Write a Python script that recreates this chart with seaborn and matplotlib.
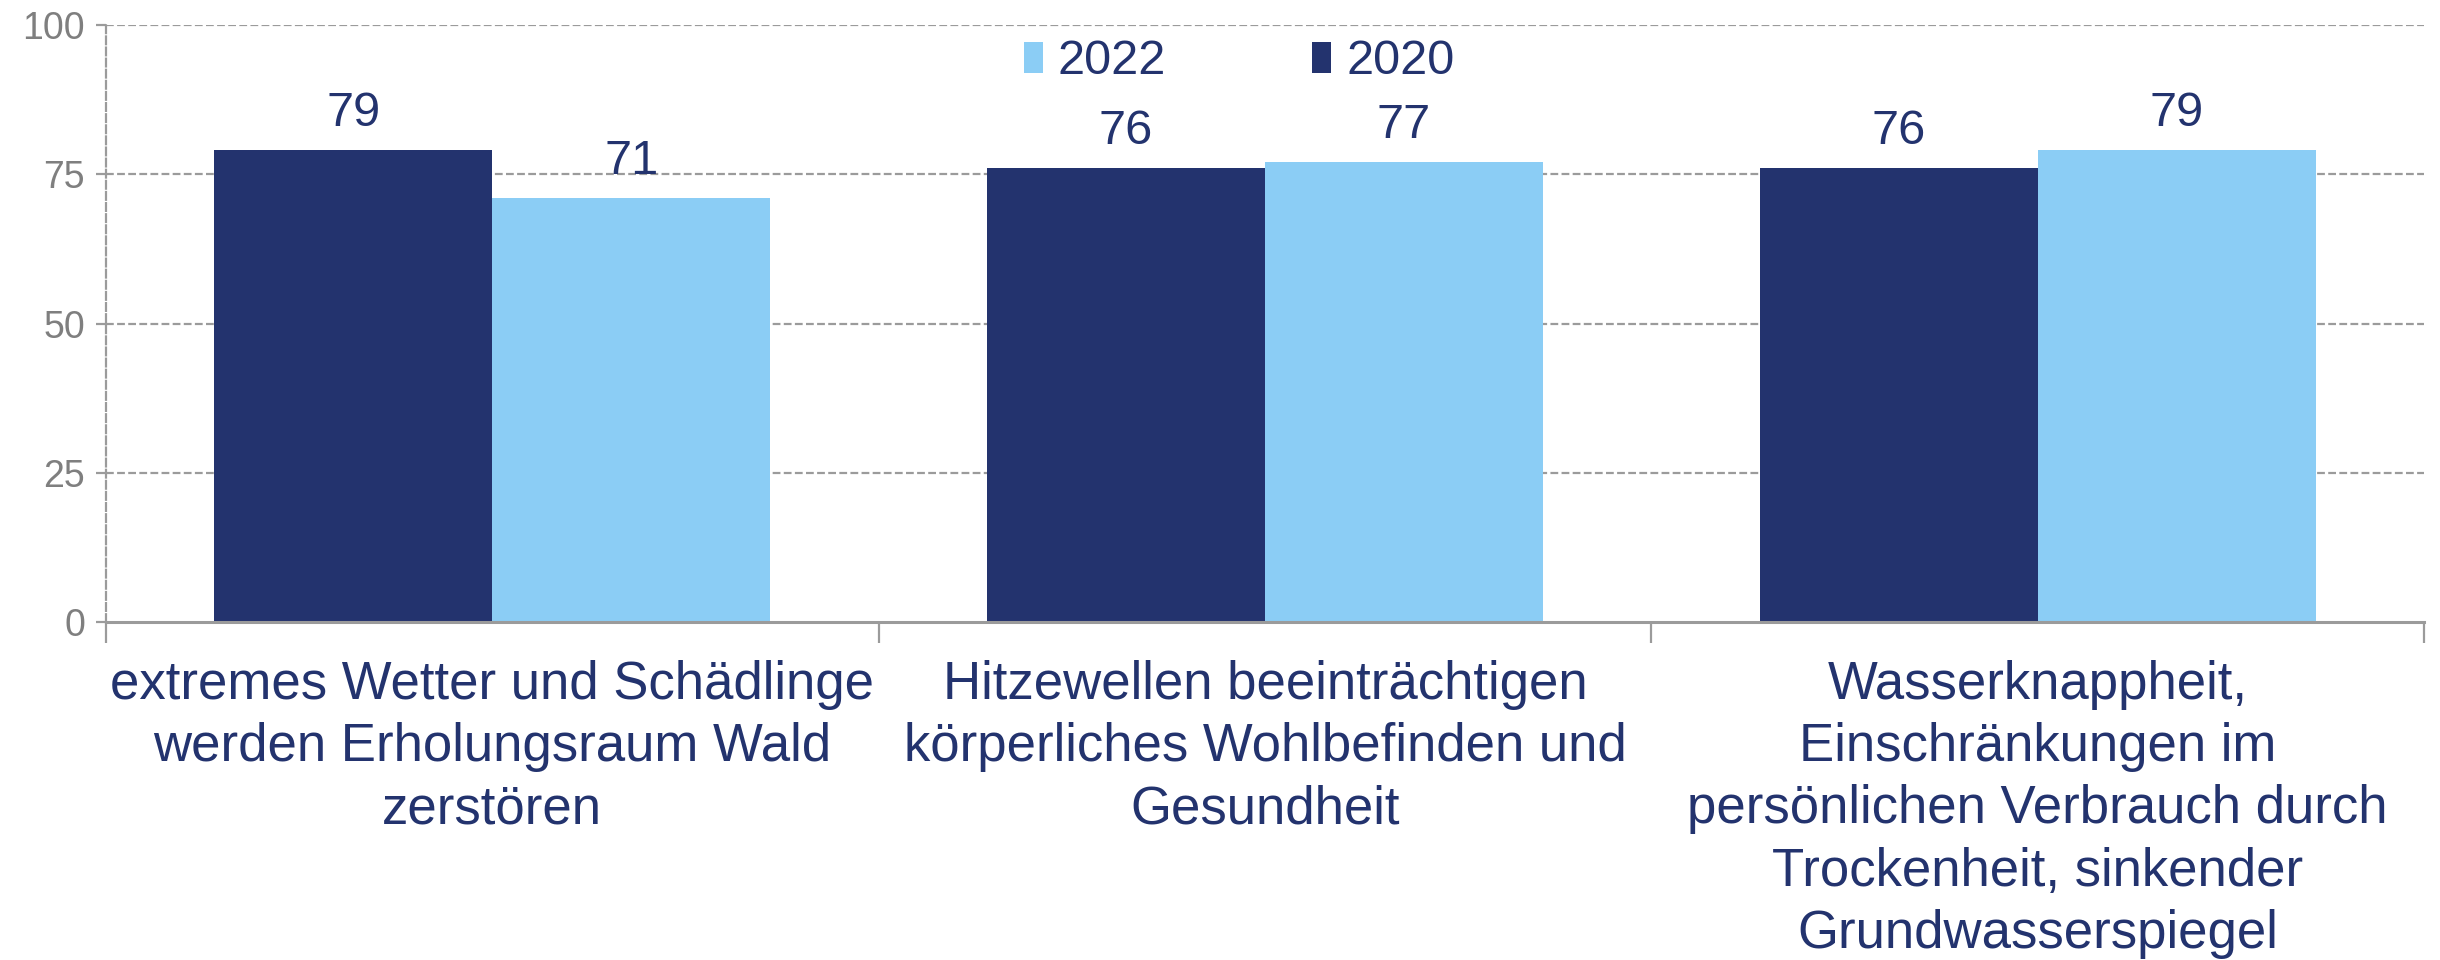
import matplotlib
matplotlib.use("Agg")
import matplotlib.pyplot as plt
import pandas as pd
import seaborn as sns
from matplotlib import font_manager
from matplotlib.patches import Patch
from matplotlib.ticker import FixedLocator

categories = [
    "extremes Wetter und Schädlinge\nwerden Erholungsraum Wald\nzerstören",
    "Hitzewellen beeinträchtigen\nkörperliches Wohlbefinden und\nGesundheit",
    "Wasserknappheit,\nEinschränkungen im\npersönlichen Verbrauch durch\nTrockenheit, sinkender\nGrundwasserspiegel",
]
values_2020 = [79, 76, 76]
values_2022 = [71, 77, 79]
years = ["2020", "2022"]
y_ticks = [0, 25, 50, 75, 100]

NAVY = "#23336e"
LIGHT = "#8bcdf5"
GRID = "#9b9b9b"
TICK_GRAY = "#7f7f7f"

plt.rcParams["font.family"] = ["Liberation Sans", "DejaVu Sans"]
installed = {f.name for f in font_manager.fontManager.ttflist}
narrow = "Liberation Sans Narrow" if "Liberation Sans Narrow" in installed else "Liberation Sans"

df = pd.DataFrame({
    "category": categories * 2,
    "year": ["2020"] * 3 + ["2022"] * 3,
    "value": values_2020 + values_2022,
})

fig = plt.figure(figsize=(24.4, 9.6), dpi=100)
ax = fig.add_axes([106 / 2440, 1 - 622 / 960, (2424 - 106) / 2440, (622 - 25) / 960])

sns.barplot(
    data=df, x="category", y="value", hue="year", hue_order=years,
    order=categories, palette=[NAVY, LIGHT], width=0.72, saturation=1,
    legend=False, ax=ax, zorder=3,
)

for container in ax.containers:
    ax.bar_label(container, fmt="%.0f", padding=10, fontsize=35, color=NAVY)

ax.set_ylim(0, 100)
ax.set_xlim(-0.5, 2.5)
ax.set_yticks(y_ticks)
ax.set_xlabel("")
ax.set_ylabel("")

# grid lines
for y in y_ticks[1:]:
    ax.axhline(y, color=GRID, linewidth=1.6, linestyle=(0, (3.5, 1.5)), zorder=1)

for side in ["top", "right"]:
    ax.spines[side].set_visible(False)
ax.spines["left"].set_color(GRID)
ax.spines["left"].set_linewidth(1.6)
ax.spines["left"].set_linestyle((0, (3.5, 1.5)))
ax.spines["bottom"].set_color(GRID)
ax.spines["bottom"].set_linewidth(2.2)
ax.spines["bottom"].set_zorder(4)

ax.tick_params(axis="y", labelsize=27, labelcolor=TICK_GRAY, color=GRID,
               length=7, width=1.6, pad=8)
for lbl in ax.get_yticklabels():
    lbl.set_family(narrow)
ax.tick_params(axis="x", which="major", length=0, labelsize=38,
               labelcolor=NAVY, pad=27)
ax.xaxis.set_minor_locator(FixedLocator([-0.5, 0.5, 1.5, 2.5]))
ax.tick_params(axis="x", which="minor", length=15, width=1.6, color=GRID)
for lbl in ax.get_xticklabels():
    lbl.set_linespacing(1.32)
    lbl.set_verticalalignment("top")

handles = [Patch(facecolor=LIGHT, label="2022"), Patch(facecolor=NAVY, label="2020")]
leg = ax.legend(
    handles=handles, loc="center", bbox_to_anchor=(1239 / 2440, 1 - 62 / 960),
    bbox_transform=fig.transFigure, ncol=2, frameon=False, fontsize=35,
    handlelength=0.4, handleheight=0.6, handletextpad=0.3, columnspacing=3.0,
)
for t in leg.get_texts():
    t.set_color(NAVY)

fig.savefig("out.png", dpi=100)
plt.close(fig)
